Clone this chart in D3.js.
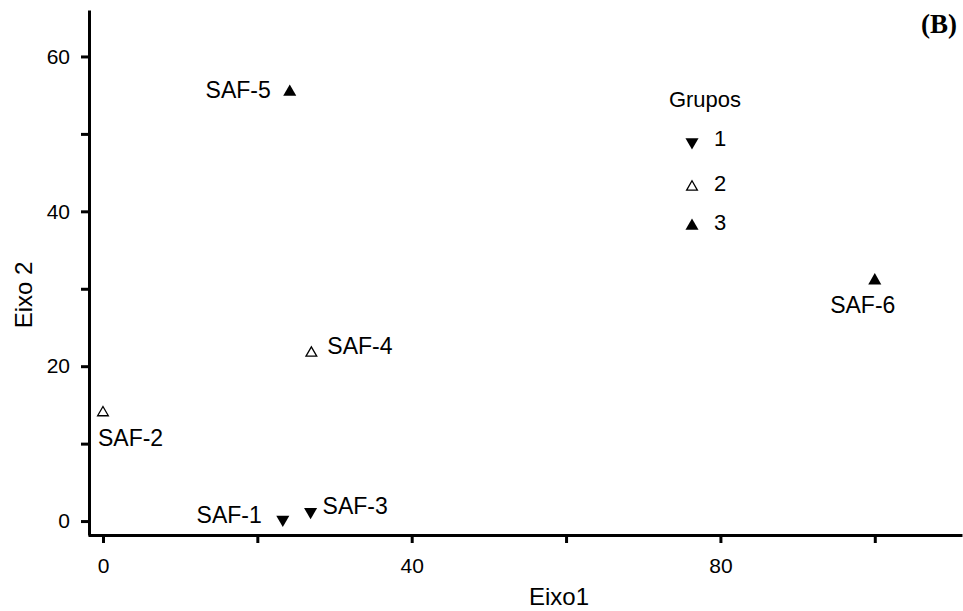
<!DOCTYPE html>
<html><head><meta charset="utf-8">
<script src="https://cdn.jsdelivr.net/npm/d3@7"></script>
<style>body{margin:0;background:#fff}svg{display:block}</style>
</head><body>
<svg id="c" width="963" height="611"></svg>
<script>
const names = ["SAF-1","SAF-2","SAF-3","SAF-4","SAF-5","SAF-6"];
const eixo1 = [23.3, 0, 26.9, 27.0, 24.2, 100.0];
const eixo2 = [0.2, 14.0, 1.2, 21.7, 55.4, 31.05];
const grupos = [1, 2, 1, 2, 3, 3];
const legendGroups = [1, 2, 3];
const xTicks = [0, 20, 40, 60, 80, 100];
const xTickLabels = ["0", "", "40", "", "80", ""];
const yTicks = [0, 10, 20, 30, 40, 50, 60];
const yTickLabels = ["0", "", "20", "", "40", "", "60"];
// label placement: [dx, dy, anchor]
const labelPos = [[-21, 3, "end"], [-5, 33, "start"], [12, 2, "start"], [16, 1, "start"], [-19, 6, "end"], [-12, 32, "middle"]];

const FONT = "Liberation Sans, Arial, sans-serif";
const svg = d3.select("#c");
const x = d3.scaleLinear().domain([-1.94, 111.3]).range([88, 962]);
const y = d3.scaleLinear().domain([-1.8, 66]).range([535, 10]);

const ax = svg.append("g").attr("transform", "translate(0,535)")
  .call(d3.axisBottom(x).tickValues(xTicks).tickFormat((d,i)=>xTickLabels[i]).tickSize(8).tickSizeOuter(0).tickPadding(15));
const ay = svg.append("g").attr("transform", "translate(89,0)")
  .call(d3.axisLeft(y).tickValues(yTicks).tickFormat((d,i)=>yTickLabels[i]).tickSize(8).tickSizeOuter(0).tickPadding(11));
[ax, ay].forEach(g => {
  g.select(".domain").attr("stroke", "#000").attr("stroke-width", 3);
  g.selectAll(".tick line").attr("stroke", "#000").attr("stroke-width", 3);
  g.selectAll(".tick text").attr("fill", "#000").style("font-family", FONT).style("font-size", "21px");
});

const sym = g => d3.symbol().type(d3.symbolTriangle).size(g === 2 ? 50 : 74)();
function drawMarker(sel, g) {
  sel.append("path").attr("d", sym(g))
    .attr("transform", g === 1 ? "rotate(180)" : null)
    .attr("fill", g === 2 ? "#fff" : "#000")
    .attr("stroke", "#000").attr("stroke-width", g === 2 ? 1.3 : 0);
}

const pts = svg.append("g").selectAll("g").data(names).join("g")
  .attr("transform", (d,i) => `translate(${x(eixo1[i])},${y(eixo2[i])})`);
pts.each(function(d,i){ drawMarker(d3.select(this), grupos[i]); });
pts.append("text").text(d=>d)
  .attr("x", (d,i)=>labelPos[i][0]).attr("y", (d,i)=>labelPos[i][1])
  .attr("text-anchor", (d,i)=>labelPos[i][2])
  .style("font-family", FONT).style("font-size", "23px");

// legend
const lg = svg.append("g");
lg.append("text").text("Grupos").attr("x", 705).attr("y", 107).attr("text-anchor","middle")
  .style("font-family", FONT).style("font-size", "22px");
const items = lg.selectAll("g.it").data(legendGroups).join("g").attr("class","it")
  .attr("transform", (d,i)=>`translate(692,${[142,187,226][i]})`);
items.each(function(d){ drawMarker(d3.select(this), d); });
items.append("text").text(d=>d).attr("x", 22).attr("y", 4)
  .style("font-family", FONT).style("font-size", "22px");

// titles
svg.append("text").text("Eixo1").attr("x", 559).attr("y", 605).attr("text-anchor","middle")
  .style("font-family", FONT).style("font-size", "24px");
svg.append("text").text("Eixo 2").attr("transform","translate(32,295) rotate(-90)").attr("text-anchor","middle")
  .style("font-family", FONT).style("font-size", "24px");
svg.append("text").text("(B)").attr("x", 957).attr("y", 33).attr("text-anchor","end")
  .style("font-family", "Liberation Serif, Times New Roman, serif").style("font-size", "27px").style("font-weight","bold");
</script>
</body></html>
